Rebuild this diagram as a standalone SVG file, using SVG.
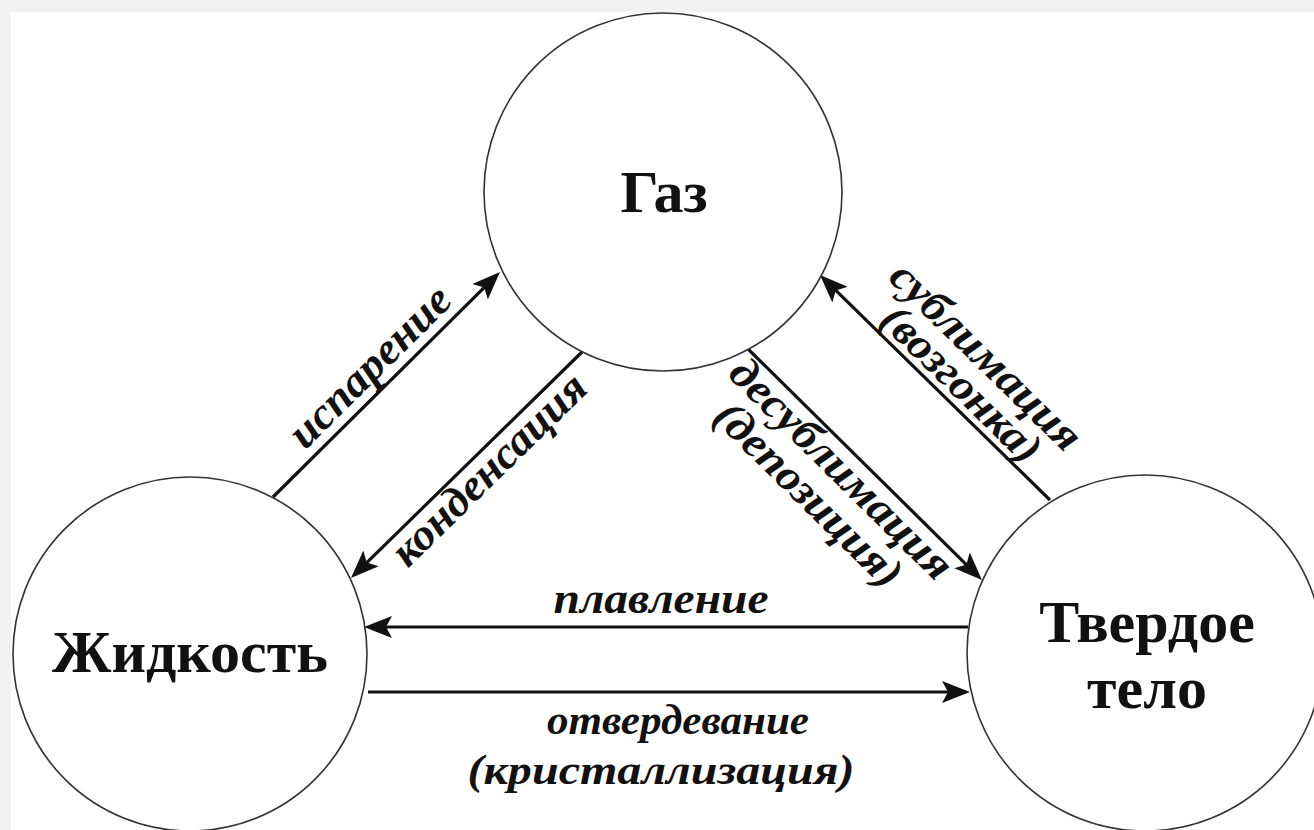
<svg xmlns="http://www.w3.org/2000/svg" width="1314" height="830" viewBox="0 0 1314 830">
  <defs>
    <marker id="arr" markerUnits="userSpaceOnUse" markerWidth="32" markerHeight="26" viewBox="0 -13 32 26" refX="22" refY="0" orient="auto">
      <path d="M0,-11 L28,0 L0,11 L6,0 Z" fill="#111"/>
    </marker>
    <style>
      .node circle { fill: #fff; stroke: #333; stroke-width: 1.6; }
      .node text { font-family: "Liberation Serif", "Times New Roman", serif; font-weight: bold; font-size: 60px; fill: #111; text-anchor: middle; }
      .conn line { stroke: #111; stroke-width: 3.2; }
      .conn line.arrow { marker-end: url(#arr); }
      .lbl { font-family: "Liberation Serif", "Times New Roman", serif; font-weight: bold; font-style: italic; font-size: 44px; fill: #111; text-anchor: middle; }
      .lbl.sm { font-size: 42px; }
    </style>
  </defs>
  <rect x="0" y="0" width="1314" height="830" fill="#f1f1f1"/>
  <rect x="11" y="12" width="1303" height="818" fill="#fff"/>

  <g id="connectors" class="conn">
    <line class="arrow" x1="273" y1="497" x2="495.7" y2="276.2"/>
    <line class="arrow" x1="582" y1="352" x2="355.3" y2="573.8"/>
    <line class="arrow" x1="1050" y1="500" x2="824.3" y2="279.2"/>
    <line class="arrow" x1="747" y1="348" x2="977.7" y2="575.8"/>
    <line class="arrow" x1="968" y1="627" x2="370" y2="627"/>
    <line class="arrow" x1="368" y1="692" x2="964" y2="692"/>
  </g>

  <g id="labels">
    <text class="lbl" transform="translate(387,384) rotate(-44.74)" x="0" y="-10.5" textLength="210" lengthAdjust="spacingAndGlyphs">испарение</text>
    <text class="lbl" transform="translate(475.7,456) rotate(-44.4)" x="0" y="33" textLength="255" lengthAdjust="spacingAndGlyphs">конденсация</text>
    <text class="lbl" transform="translate(945.6,397.8) rotate(44.4)" x="0" y="-44" textLength="250" lengthAdjust="spacingAndGlyphs">сублимация</text>
    <text class="lbl" transform="translate(946.8,399) rotate(44.4)" x="0" y="-7" textLength="206" lengthAdjust="spacingAndGlyphs">(возгонка)</text>
    <text class="lbl" transform="translate(855.3,454.9) rotate(44.6)" x="0" y="34" textLength="295" lengthAdjust="spacingAndGlyphs">десублимация</text>
    <text class="lbl" transform="translate(851.3,451) rotate(44.6)" x="0" y="75" textLength="245" lengthAdjust="spacingAndGlyphs">(депозиция)</text>
    <text class="lbl" x="661" y="613" textLength="215" lengthAdjust="spacingAndGlyphs">плавление</text>
    <text class="lbl sm" x="678" y="734" textLength="262" lengthAdjust="spacingAndGlyphs">отвердевание</text>
    <text class="lbl sm" x="661" y="784" textLength="387" lengthAdjust="spacingAndGlyphs">(кристаллизация)</text>
  </g>

  <g id="gas" class="node">
    <circle cx="663" cy="192" r="179"/>
    <text x="664" y="212">Газ</text>
  </g>
  <g id="liquid" class="node">
    <circle cx="190" cy="654" r="177"/>
    <text x="190" y="672">Жидкость</text>
  </g>
  <g id="solid" class="node">
    <circle cx="1145" cy="653" r="178"/>
    <text x="1147" y="642">Твердое</text>
    <text x="1147" y="708">тело</text>
  </g>
</svg>
